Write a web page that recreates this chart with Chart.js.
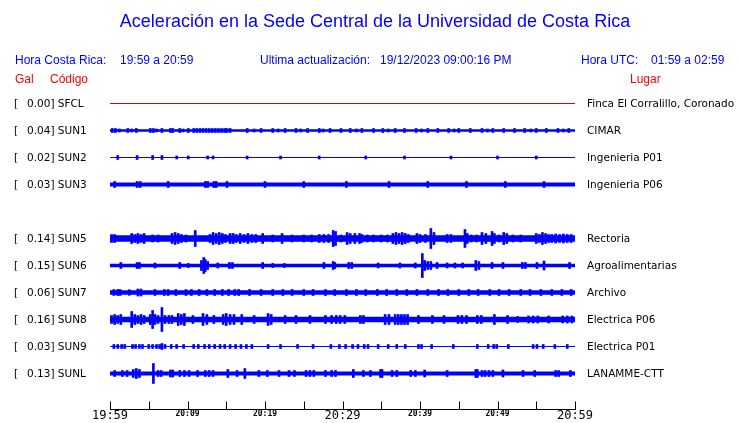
<!DOCTYPE html>
<html lang="es">
<head>
<meta charset="UTF-8">
<title>Aceleración Sede Central</title>
<style>
  body { margin: 0; background: #fff; }
  canvas { display: block; }
</style>
</head>
<body>
<canvas id="sismo" width="740" height="423"></canvas>
<script src="https://cdn.jsdelivr.net/npm/chart.js"></script>
<script>
// stations, top to bottom (SUN4 has no data, its row stays empty)
const stationCodes = ['SFCL', 'SUN1', 'SUN2', 'SUN3', 'SUN4', 'SUN5', 'SUN6', 'SUN7', 'SUN8', 'SUN9', 'SUNL'];
const stationPlaces = ['Finca El Corralillo, Coronado', 'CIMAR', 'Ingenieria P01', 'Ingenieria P06', '',
  'Rectoria', 'Agroalimentarias', 'Archivo', 'Electrica P06', 'Electrica P01', 'LANAMME-CTT'];
const peakGal = [0.00, 0.04, 0.02, 0.03, null, 0.14, 0.15, 0.06, 0.16, 0.03, 0.13];
// background noise half-amplitude of each trace
const noiseLevel = [0.5, 1.2, 0.5, 2, null, 3.3, 1.7, 2.3, 2.7, 0.6, 2];

// peaks: [minute after 19:59, half-amplitude]
const sfclPeaks = [];
const sun1Peaks = [[0.3,2],[0.7,2],[1.2,1.5],[2.3,2],[2.8,1.5],[3.4,2],[5.2,2],[5.6,2],[6.0,1.5],[6.7,2],[7.8,2],[8.1,2],
  [9.0,2],[9.4,1.5],[10.1,2],[10.8,2],[11.2,2],[11.6,2],[12.0,2],[12.4,2],[12.8,2],[13.2,2],[13.6,2],[14.0,2],[14.4,2],
  [14.8,2],[15.1,2],[15.5,2],[17.7,2],[18.6,1.5],[19.5,2],[21,2],[21.7,1.5],[22.6,2],[24,2],[24.6,1.5],[25.5,2],[27,2],
  [27.5,1.5],[28.4,2],[29.8,2],[31,2],[31.8,1.5],[32.5,2],[34,2],[35.2,2],[35.9,1.5],[36.8,2],[38,2],[39.5,2],[40.2,1.5],
  [41,2],[42.3,2],[43.7,2],[44.4,1.5],[45,2],[46.5,2],[48,2],[48.7,1.5],[49.4,2],[50.8,2],[52.2,2],[53.5,2],[54.3,1.5],
  [55,2],[56.3,2],[57.8,2],[58.5,1.5],[59.2,2]];
const sun2Peaks = [[1.0,2],[3.5,2],[5.5,2],[6.7,2],[8.6,1.5],[10.1,1.5],[12.6,1.5],[13.3,1.5],[17.7,1.5],[22,1.5],
  [27,1.5],[33,1.5],[38,1.5],[44,1.5],[50,1.5],[55,1.5]];
const sun3Peaks = [[0.6,3],[3.5,3],[3.9,3],[7.5,3],[12.3,3],[12.6,3],[13.4,3],[13.7,3],[15.1,3],[20,3],[25,3],[30.5,3],
  [36,3],[41,3],[46,3],[51,3],[56,3]];
const sun4Peaks = null;
const sun5Peaks = [[0.2,4],[0.6,4],[2.8,5],[3.2,4],[3.6,5],[4.0,4],[4.4,5],[5.5,3.5],[6.2,3.5],[8.0,5],[8.4,6],[8.8,5],
  [9.2,4],[9.8,3.5],[11.0,8],[12.9,4],[13.3,6],[13.7,5],[14.1,6],[14.5,5],[14.9,4],[15.5,5],[15.9,5],[16.3,4],[16.8,5],
  [17.3,4],[17.8,5],[18.3,4],[18.8,4],[19.7,5],[21,3.5],[22.2,5],[23.5,3.5],[25,3.5],[26,3.5],[27,4],[27.6,4],[28.2,4],
  [28.8,8],[29.1,7],[29.8,3.5],[30.6,6],[31,5],[31.6,5],[32.2,5],[32.5,4],[33.2,3.5],[34,3.5],[35,3.5],[35.8,3.5],
  [36.5,5],[36.9,6],[37.3,5],[37.7,6],[38.1,5],[38.5,4],[39.6,5],[40,4],[40.7,4],[41.4,10],[41.8,6],[43.5,4],[44,4],
  [45.8,9],[46.1,5],[46.6,3.5],[47.3,3.5],[48,6],[48.5,5],[49.3,7],[49.6,5],[50.2,3.5],[50.8,6],[51.2,5],[52,3.5],
  [53,3.5],[55,5],[55.4,4],[55.8,6],[56.2,5],[56.6,4],[57,4],[57.5,4.5],[58,4],[58.5,4.5],[59,4],[59.5,4]];
const sun6Peaks = [[1.4,3],[3.5,3],[3.8,3],[5.8,2.5],[9.0,3],[10.1,2],[11.8,5],[12.1,8],[12.3,6],[12.6,4],[13.9,2.5],
  [15.4,3],[15.8,3],[19.7,3],[21,2],[22.5,2],[27.6,3],[28.8,4],[29.0,3],[30.8,3],[31.2,3],[34.6,2.5],[37.4,2.5],
  [39.4,2.5],[40.3,12],[40.6,5],[41,4],[41.4,4],[42.2,3],[43.5,2.5],[44.5,2.5],[45.5,2.5],[47.2,5],[47.6,4],[49.3,3],
  [50.7,3],[53.2,3],[53.6,3],[55.1,3],[56,4.5],[59.3,3]];
const sun7Peaks = [[0.5,3],[1.0,3],[1.3,3],[2.5,2.8],[3.6,3.5],[4.0,3.5],[5.8,3],[7,3],[7.5,3],[8.5,3],[9.8,3],[10.5,3],
  [11.5,3],[12.5,3],[13.5,3],[14.5,3],[15.3,3],[16.1,3],[16.6,3],[18,3],[19.5,3],[21,3],[22.3,3],[23.5,3],[25,3],
  [26.2,3],[27.8,3],[29,3],[30.5,3],[31.8,3],[33,3],[34.5,3],[35.7,3],[37,3],[38.3,3],[39.6,3],[41,3],[42.4,3],
  [43.6,3],[45,3],[46.3,3],[47.5,3],[49,3],[50.2,3],[51.5,3],[53,3],[54.2,3],[55.6,3],[57,3],[58.3,3],[59.5,3]];
const sun8Peaks = [[0.2,4],[0.6,5],[1.0,4],[1.4,5],[2.8,8],[3.2,5],[3.6,4],[4.0,5],[4.4,4],[5.2,5],[5.5,9],[5.8,5],
  [6.2,4],[6.7,12],[7.1,4],[7.6,4],[8.0,4],[8.8,6],[9.2,5],[9.6,6],[10.7,4],[12.0,6],[12.5,5],[13.4,4],[14.6,5],
  [15.0,6],[15.5,5],[16.0,5],[17.0,5],[18.6,4],[20.4,6],[20.8,5],[22.6,4],[24,4],[25.8,4],[27.8,4],[28.6,4],[29.2,4],
  [29.7,4],[30.3,4],[32.3,4],[32.7,4],[35.5,5],[36,5],[36.8,5],[37.2,5],[37.6,5],[38,5],[38.4,5],[39.8,4],[41.6,4],
  [43.1,4],[44.9,4],[45.4,4],[46,4],[47.4,4],[47.9,4],[49.6,5],[51.3,4],[52.6,3],[54,3.5],[54.6,3.5],[55.2,3.5],
  [56.6,3.5],[58.4,3.5],[59,3.5],[59.6,3.5]];
const sun9Peaks = [[0.5,2],[1.0,2],[1.5,2],[1.9,2],[2.9,2],[3.3,2],[3.8,2],[4.2,2],[5,2],[5.5,2],[6,2],[6.4,2],[6.7,3],
  [7.1,2],[7.9,2],[8.6,2],[9.5,2],[10.8,2],[11.4,2],[12.2,2],[12.8,2],[13.5,2],[14.2,2],[14.8,2],[15.5,2],[16.2,2],
  [16.9,2],[17.6,2],[18.3,2],[20.4,2],[22,2],[24.2,2],[26.2,2],[28.5,2],[29.6,2],[30.4,2],[31.3,2],[32,2],[32.8,2],
  [33.3,2],[34.6,2],[35.9,2],[37,2],[38.1,2],[39.8,2],[40.2,2],[41.5,2],[44.3,2],[47.4,2],[48.8,2],[49.5,2],[49.9,2],
  [51.4,2],[54.6,2],[55.1,2],[55.9,2],[57.4,2],[59,2]];
const sunlPeaks = [[0.6,3],[1.6,3],[2.2,3],[3.0,4],[3.4,5],[3.8,4],[5.6,10],[6.2,3],[6.6,3],[7.8,3.5],[8.1,3.5],[9,3],
  [9.6,3],[10.2,3],[11.3,3],[12.3,3],[12.8,3],[13.3,3],[15.2,4],[16.4,3],[17.4,5],[19.2,3],[20.3,3],[21.8,3],[23.1,3],
  [23.8,3],[25.3,3],[25.8,3],[26.3,3],[27.8,3],[28.6,3],[29.1,3],[31.4,4],[32.7,3],[33.6,3],[34.9,4],[35.1,4],[36.4,3],
  [37,3],[38.8,3],[39.4,3],[40.6,3.5],[43.5,3],[47.2,4],[47.4,4],[48,3],[48.4,3],[48.9,3],[49.4,3],[50.7,3.5],[53.3,3],
  [54.8,3],[57.5,3],[57.9,3],[59.4,3]];
const stationPeaks = [sfclPeaks, sun1Peaks, sun2Peaks, sun3Peaks, sun4Peaks, sun5Peaks, sun6Peaks, sun7Peaks,
  sun8Peaks, sun9Peaks, sunlPeaks];

// time axis, one tick every 5 minutes
const tickLabels = ['19:59', '', '20:09', '', '20:19', '', '20:29', '', '20:39', '', '20:49', '', '20:59'];
const bigTicks = ['19:59', '20:29', '20:59'];

const ROW = 27;
const BLUE = '#0000ff';
const RED = '#ff0000';

var datasets = [];
stationCodes.forEach(function(code, i) {
    if (peakGal[i] === null) return;
    var c = i * ROW;
    var col = i === 0 ? '#dd0000' : BLUE;
    // noise band
    datasets.push({
        type: 'line',
        data: [{x: 0, y: c - noiseLevel[i]}, {x: 60, y: c - noiseLevel[i]}],
        fill: {value: c + noiseLevel[i]},
        backgroundColor: col,
        borderColor: 'rgba(0,0,0,0)',
        borderWidth: 0,
        pointRadius: 0
    });
    if (stationPeaks[i].length) {
        datasets.push({
            type: 'bar',
            data: stationPeaks[i].map(p => ({x: p[0], y: [c - p[1], c + p[1]]})),
            backgroundColor: col,
            borderWidth: 0,
            barThickness: 2,
            grouped: false
        });
    }
});

const texts = {
    id: 'texts',
    afterDraw(chart) {
        const ctx = chart.ctx;
        const xs = chart.scales.x, ys = chart.scales.y, area = chart.chartArea;
        ctx.save();
        // axis line with upward ticks
        ctx.strokeStyle = '#000';
        ctx.lineWidth = 1;
        ctx.beginPath();
        var by = area.bottom + 0.5;
        ctx.moveTo(Math.round(area.left), by);
        ctx.lineTo(Math.round(area.right) + 1, by);
        xs.ticks.forEach(function(t) {
            var px = Math.round(xs.getPixelForValue(t.value)) + 0.5;
            ctx.moveTo(px, by - 8);
            ctx.lineTo(px, by);
        });
        ctx.stroke();

        ctx.textBaseline = 'middle';
        ctx.textAlign = 'center';
        ctx.fillStyle = BLUE;
        ctx.font = '18px "Liberation Sans", Arial, sans-serif';
        ctx.fillText('Aceleración en la Sede Central de la Universidad de Costa Rica', 375, 22);

        ctx.textAlign = 'left';
        ctx.font = '12px "Liberation Sans", Arial, sans-serif';
        ctx.fillText('Hora Costa Rica:', 15, 61);
        ctx.fillText('19:59 a 20:59', 120, 61);
        ctx.fillText('Ultima actualización:', 260, 61);
        ctx.fillText('19/12/2023 09:00:16 PM', 380, 61);
        ctx.fillText('Hora UTC:', 581, 61);
        ctx.fillText('01:59 a 02:59', 651, 61);
        ctx.fillStyle = RED;
        ctx.fillText('Gal', 15, 80);
        ctx.fillText('Código', 50, 80);
        ctx.fillText('Lugar', 630, 80);

        ctx.fillStyle = '#000';
        ctx.font = '10.5px "DejaVu Sans", sans-serif';
        stationCodes.forEach(function(code, i) {
            if (peakGal[i] === null) return;
            var y = ys.getPixelForValue(i * ROW) + 0.5;
            ctx.fillText('[', 14, y);
            ctx.fillText(peakGal[i].toFixed(2) + '] ' + code, 27, y);
            ctx.fillText(stationPlaces[i], 587, y);
        });
        ctx.restore();
    }
};

new Chart(document.getElementById('sismo'), {
    type: 'bar',
    data: { datasets: datasets },
    options: {
        responsive: false,
        devicePixelRatio: 1,
        animation: false,
        events: [],
        layout: { padding: { left: 110, right: 165, top: 89, bottom: 0 } },
        plugins: { legend: { display: false }, tooltip: { enabled: false } },
        scales: {
            x: {
                type: 'linear',
                min: 0,
                max: 60,
                offset: false,
                grid: { display: false, drawTicks: false },
                border: { display: false },
                afterFit: function(scale) { scale.height = 14; },
                ticks: {
                    stepSize: 5,
                    autoSkip: false,
                    maxRotation: 0,
                    padding: 0,
                    color: '#000',
                    callback: function(v) { return tickLabels[Math.round(v / 5)]; },
                    font: function(ctx) {
                        var lbl = tickLabels[ctx.index];
                        return bigTicks.indexOf(lbl) >= 0
                            ? { family: 'DejaVu Sans Mono', size: 12 }
                            : { family: 'DejaVu Sans Mono', size: 8, weight: 'bold' };
                    }
                }
            },
            y: {
                display: false,
                reverse: true,
                min: -14.5,
                max: 305.5
            }
        }
    },
    plugins: [texts]
});
</script>
</body>
</html>
